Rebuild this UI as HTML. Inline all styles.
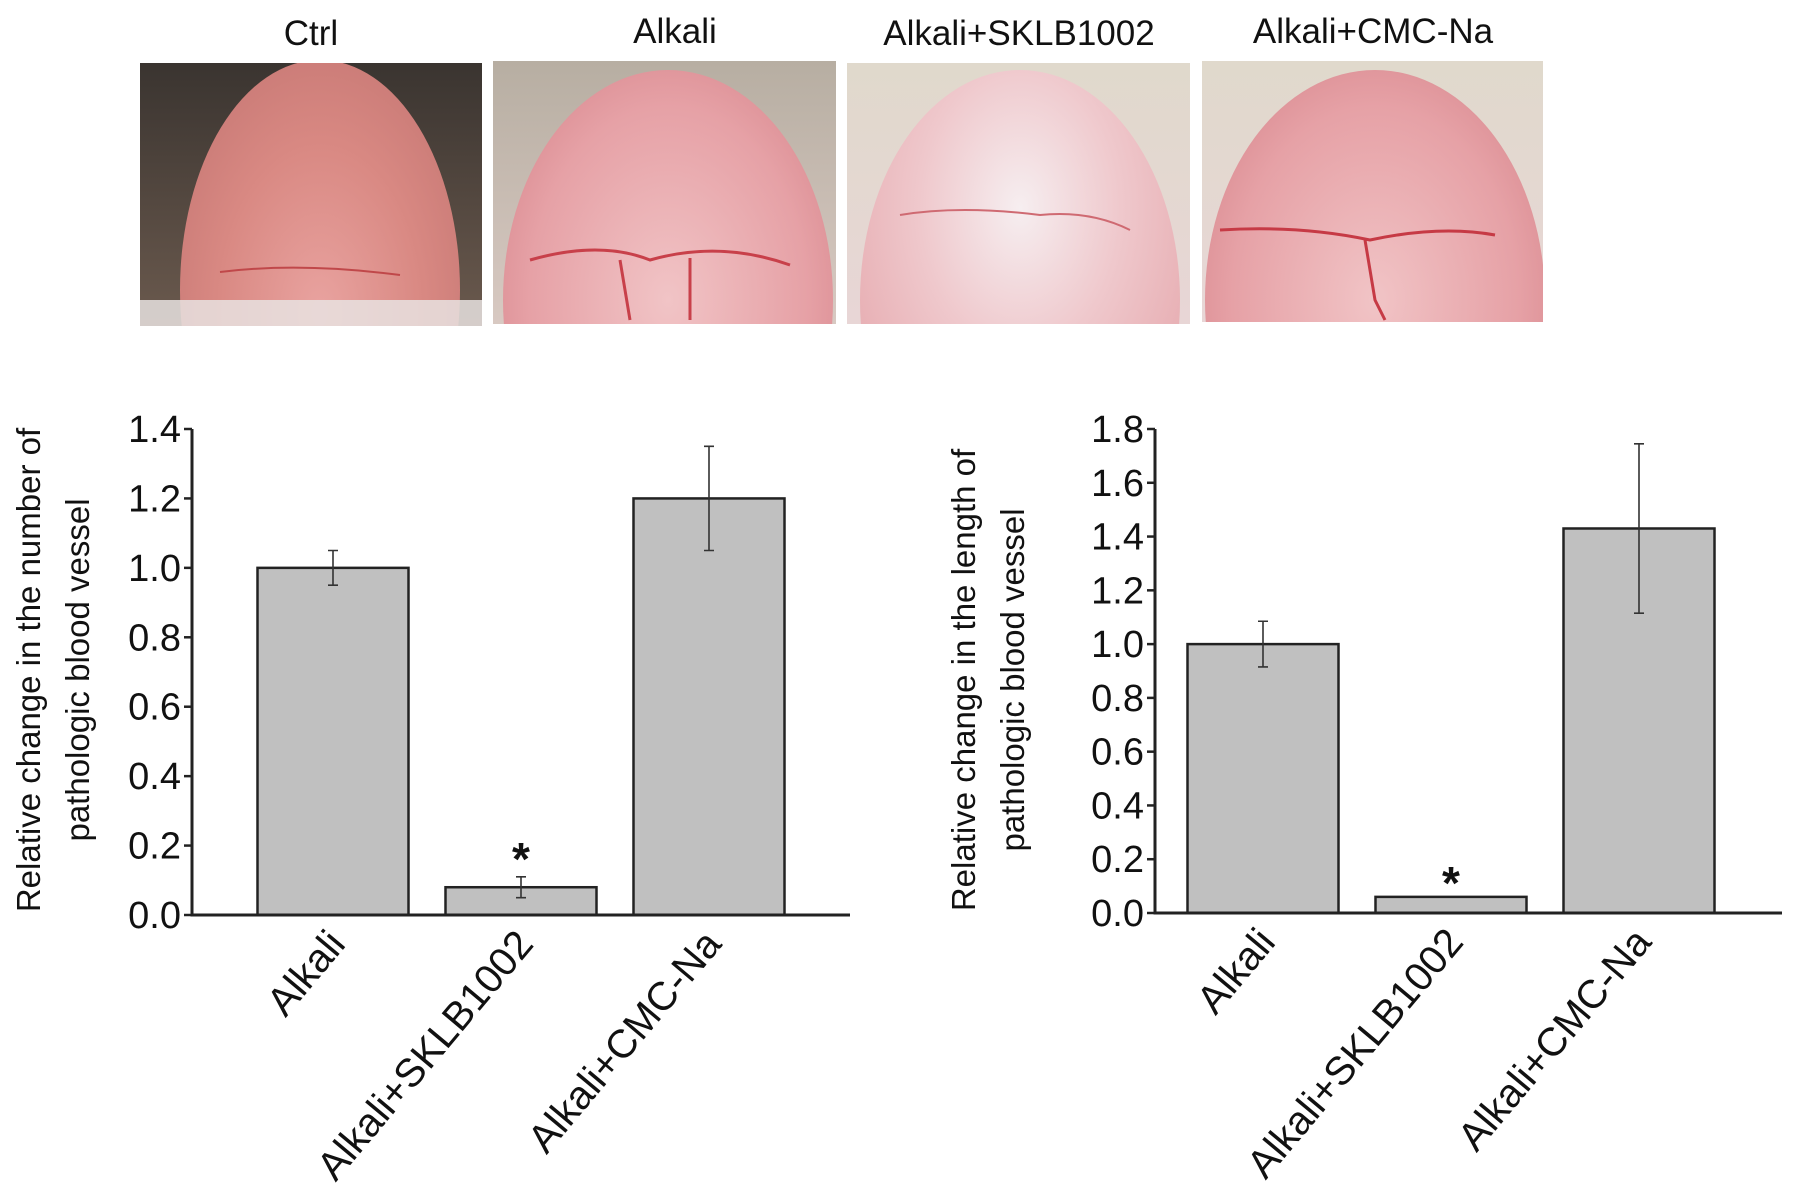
<!DOCTYPE html>
<html><head><meta charset="utf-8"><style>
html,body{margin:0;padding:0;background:#fff;}
svg{display:block;font-family:"Liberation Sans",Arial,sans-serif;}
</style></head><body>
<svg id="fig" width="1795" height="1193" viewBox="0 0 1795 1193" xmlns="http://www.w3.org/2000/svg">
<defs>
<radialGradient id="eyeA" cx="0.5" cy="0.55" r="0.6"><stop offset="0" stop-color="#e9a3a0"/><stop offset="0.6" stop-color="#d98983"/><stop offset="1" stop-color="#c97a76"/></radialGradient>
<radialGradient id="eyeB" cx="0.5" cy="0.5" r="0.6"><stop offset="0" stop-color="#f1c4c6"/><stop offset="0.7" stop-color="#e6a1a6"/><stop offset="1" stop-color="#d98a90"/></radialGradient>
<radialGradient id="eyeC" cx="0.5" cy="0.3" r="0.7"><stop offset="0" stop-color="#f6eef0"/><stop offset="0.45" stop-color="#efc8cc"/><stop offset="1" stop-color="#e4a3a8"/></radialGradient>
<linearGradient id="bgDark" x1="0" y1="0" x2="0" y2="1"><stop offset="0" stop-color="#3a3430"/><stop offset="1" stop-color="#6b5a4e"/></linearGradient>
<linearGradient id="bgLight" x1="0" y1="0" x2="0" y2="1"><stop offset="0" stop-color="#b7aea2"/><stop offset="1" stop-color="#d8c9c2"/></linearGradient>
<linearGradient id="bgPale" x1="0" y1="0" x2="0" y2="1"><stop offset="0" stop-color="#e0d9cc"/><stop offset="1" stop-color="#e8d6d6"/></linearGradient>
<clipPath id="c1"><rect x="140" y="63" width="342" height="263"/></clipPath>
<clipPath id="c2"><rect x="493" y="61" width="343" height="263"/></clipPath>
<clipPath id="c3"><rect x="847" y="63" width="343" height="261"/></clipPath>
<clipPath id="c4"><rect x="1202" y="61" width="341" height="261"/></clipPath>
</defs>

<g font-size="35" text-anchor="middle" fill="#111">
  <text x="311" y="45">Ctrl</text>
  <text x="675" y="43">Alkali</text>
  <text x="1019" y="45">Alkali+SKLB1002</text>
  <text x="1373" y="43">Alkali+CMC-Na</text>

  <g clip-path="url(#c1)">
    <rect x="140" y="63" width="342" height="263" fill="url(#bgDark)"/>
    <ellipse cx="320" cy="290" rx="140" ry="230" fill="url(#eyeA)"/>
    <rect x="140" y="300" width="342" height="26" fill="#e8e2e0" opacity="0.85"/>
    <path d="M220 272 Q300 262 400 275" stroke="#c0484a" stroke-width="2" fill="none"/>
  </g>
  <g clip-path="url(#c2)">
    <rect x="493" y="61" width="343" height="263" fill="url(#bgLight)"/>
    <ellipse cx="668" cy="300" rx="165" ry="230" fill="url(#eyeB)"/>
    <path d="M530 260 Q600 240 650 260 Q720 240 790 265 M620 260 L630 320 M690 258 L690 320" stroke="#c8404a" stroke-width="3" fill="none"/>
  </g>
  <g clip-path="url(#c3)">
    <rect x="847" y="63" width="343" height="261" fill="url(#bgPale)"/>
    <ellipse cx="1020" cy="300" rx="160" ry="230" fill="url(#eyeC)"/>
    <path d="M900 215 Q960 205 1040 215 Q1090 210 1130 230" stroke="#cf6a72" stroke-width="2" fill="none"/>
  </g>
  <g clip-path="url(#c4)">
    <rect x="1202" y="61" width="341" height="261" fill="url(#bgPale)"/>
    <ellipse cx="1375" cy="300" rx="170" ry="230" fill="url(#eyeB)"/>
    <path d="M1220 230 Q1300 225 1370 240 Q1440 225 1495 235 M1365 240 L1375 300 L1385 320" stroke="#c63a45" stroke-width="3" fill="none"/>
  </g>
</g>

<g id="chart1"></g>
<g id="chart2"></g>
</svg>
<script>
const categories = ["Alkali", "Alkali+SKLB1002", "Alkali+CMC-Na"];
const numberValues = [1.0, 0.08, 1.2];
const numberErrors = [0.05, 0.03, 0.15];
const numberTicks = ["0.0","0.2","0.4","0.6","0.8","1.0","1.2","1.4"];
const lengthValues = [1.0, 0.06, 1.43];
const lengthErrors = [0.085, 0.0, 0.315];
const lengthTicks = ["0.0","0.2","0.4","0.6","0.8","1.0","1.2","1.4","1.6","1.8"];
const significant = [false, true, false];

const NS = "http://www.w3.org/2000/svg";
function mk(tag, attrs, parent, text) {
  const e = document.createElementNS(NS, tag);
  for (const k in attrs) e.setAttribute(k, attrs[k]);
  if (text !== undefined) e.textContent = text;
  parent.appendChild(e);
  return e;
}

function drawChart(g, cfg) {
  const yMax = parseFloat(cfg.ticks[cfg.ticks.length - 1]);
  const y = v => cfg.y0 - (v / yMax) * (cfg.y0 - cfg.yTop);
  const xc = i => cfg.firstC + cfg.step * i;
  const barW = cfg.barW;

  categories.forEach((c, i) => {
    const v = cfg.values[i];
    const bar = mk("rect", {x: xc(i) - barW/2, y: y(v), width: barW, height: cfg.y0 - y(v), fill: "#c0c0c0", stroke: "#222", "stroke-width": 2.5}, g);
    
    
    const e = cfg.errors[i];
    if (e > 0) {
      const eb = mk("path", {d: `M${xc(i)} ${y(v+e)} V${y(v-e)} M${xc(i)-5} ${y(v+e)} H${xc(i)+5} M${xc(i)-5} ${y(v-e)} H${xc(i)+5}`, stroke: "#333", "stroke-width": 1.6, fill: "none"}, g);
      
      
    }
    if (significant[i]) {
      const top = y(v + e);
      const s = mk("text", {x: xc(i), y: top + cfg.starDy, "font-size": 46, "font-weight": "bold", "text-anchor": "middle", fill: "#111"}, g, "*");
      
      
    }
    const lx = xc(i) + 14, ly = cfg.y0 + 30;
    const lab = mk("text", {x: lx, y: ly, "font-size": 40, "text-anchor": "end", fill: "#111", transform: `rotate(-50 ${lx} ${ly})`}, g, c);
    
    
  });

  const ax = mk("path", {d: `M${cfg.axisX} ${cfg.yTop} V${cfg.y0} H${cfg.xEnd}`, stroke: "#222", "stroke-width": 3, fill: "none"}, g);
  
  

  cfg.ticks.forEach(t => {
    const ty = y(parseFloat(t));
    const tk = mk("line", {x1: cfg.axisX - 8, x2: cfg.axisX, y1: ty, y2: ty, stroke: "#222", "stroke-width": 2.5}, g);
    
    
    const tl = mk("text", {x: cfg.axisX - 11, y: ty + 13, "font-size": 38, "text-anchor": "end", fill: "#111"}, g, t);
    
    
  });

  const yt = mk("text", {transform: `translate(${cfg.titleX} ${cfg.titleY}) rotate(-90)`, "font-size": 33, "text-anchor": "middle", fill: "#111"}, g);
  
  
  mk("tspan", {x: 0, y: 0}, yt, cfg.title1);
  mk("tspan", {x: 0, y: 49}, yt, cfg.title2);
}

drawChart(document.getElementById("chart1"), {
  values: numberValues, errors: numberErrors, ticks: numberTicks,
  axisX: 192, y0: 915, yTop: 429, xEnd: 850, firstC: 333, step: 188, barW: 151, starDy: -2,
  titleX: 40, titleY: 670,
  title1: "Relative change in the number of", title2: "pathologic blood vessel"
});
drawChart(document.getElementById("chart2"), {
  values: lengthValues, errors: lengthErrors, ticks: lengthTicks,
  axisX: 1155, y0: 913, yTop: 429, xEnd: 1782, firstC: 1263, step: 188, barW: 151, starDy: 2,
  titleX: 975, titleY: 680,
  title1: "Relative change in the length of", title2: "pathologic blood vessel"
});
</script>
</body></html>
